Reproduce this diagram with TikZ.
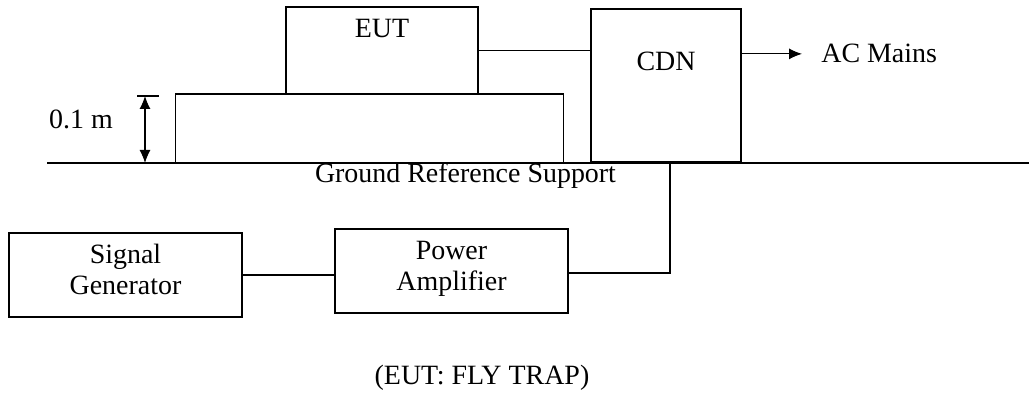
\documentclass[tikz,border=0pt]{standalone}
\usepackage{fontspec}
\setmainfont{Liberation Serif}
\usepackage{tikz}
\usetikzlibrary{arrows.meta,positioning,calc}

\tikzset{
  unit/.style={draw, line width=0.6pt, inner sep=0pt, align=center},
  txt/.style={inner sep=0pt},
  wire/.style={line width=0.6pt}
}

\begin{document}
\begin{tikzpicture}[x=0.02cm, y=-0.02cm, font=\fontsize{15.9pt}{17.6pt}\selectfont]
\useasboundingbox (0,0) rectangle (1029,394);
\def\tip{{Latex[length=0.26cm,width=0.22cm]}}
% boxes
\node[unit, minimum width=7.78cm, minimum height=1.38cm] (bench) at (369.5,128.5) {};
\node[unit, minimum width=3.84cm, minimum height=1.74cm,
      label={[txt, anchor=base, label distance=-0.62cm]north:EUT}] (eut) at (382,50.5) {};
\node[unit, minimum width=3cm, minimum height=3.06cm,
      label={[txt, anchor=base, label distance=-1.24cm]north:CDN}] (cdn) at (666,85.5) {};
\node[unit, minimum width=4.66cm, minimum height=1.68cm, text depth=0.24cm] (siggen) at (125.5,275) {Signal\\Generator};
\node[unit, minimum width=4.66cm, minimum height=1.68cm, text depth=0.22cm] (amp) at (451.5,271) {Power\\Amplifier};

% texts
\node[txt, anchor=base west] (mains) at (821,63) {AC Mains};
\node[txt, anchor=base] (grs) at (465.5,183) {Ground Reference Support};
\node[txt, anchor=base] (height) at (81,129) {0.1 m};
\node[txt, anchor=base] (note) at (482,385) {(EUT: FLY TRAP)};

% ground line and 0.1 m dimension
\coordinate (gndl) at (47,163);
\coordinate (gndr) at (1029,163);
\draw[wire] (gndl) -- (gndr);
\coordinate (dimtop) at (145,96);
\coordinate (dimbot) at (145,163);
\draw[wire] ($(dimtop)+(-8,0)$) -- ($(dimtop)+(14,0)$);
\draw[wire, \tip-\tip] (dimtop) -- (dimbot);

% wiring
\draw[wire] (eut.east) -- (eut.east -| cdn.west);
\draw[wire, -\tip] (cdn.east |- mains.west) -- ([xshift=-0.38cm]mains.west);
\draw[wire] (siggen.east) -- (siggen.east -| amp.west);
\draw[wire] ([yshift=-0.04cm]amp.east) -| ([xshift=0.08cm]cdn.south);
\end{tikzpicture}
\end{document}
